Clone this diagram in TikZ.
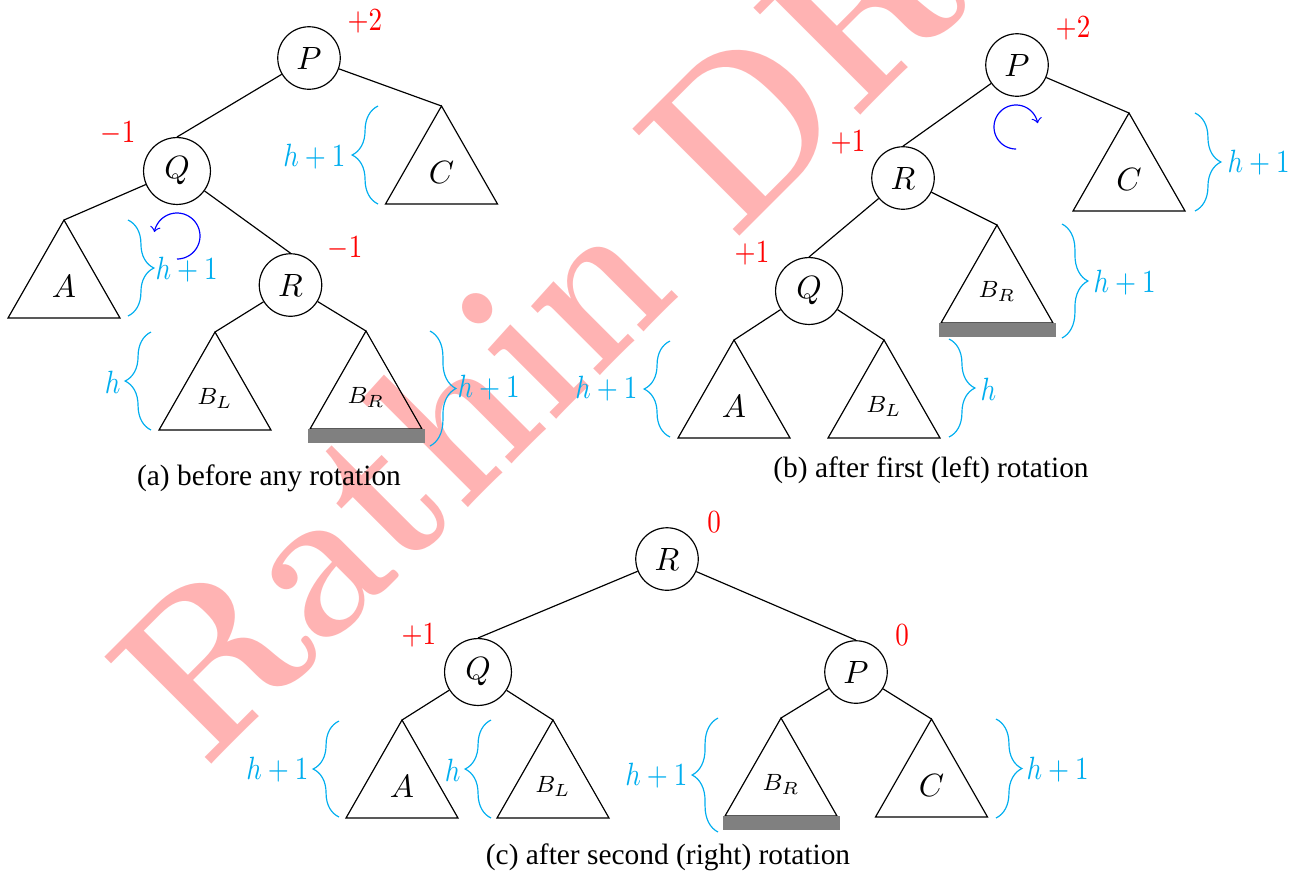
\documentclass[tikz,border=0pt]{standalone}
\usepackage{fontspec}
\usepackage{graphicx}
\usetikzlibrary{decorations.pathreplacing,calc}
\newfontfamily\capfont{Liberation Serif}
\definecolor{bcyan}{RGB}{0,174,239}
\definecolor{wmpink}{RGB}{255,179,179}
\definecolor{barg}{RGB}{128,128,128}
\newcommand{\subtri}[5]{%
  \coordinate (#1) at (#2,#3);
  \draw (#1) -- ++(56,98) -- ++(-112,0) -- cycle;
  \node[#5] (#1-lbl) at ($(#1)+(0,66)$) {#4};
}
\newcommand{\subbar}[1]{%
  \fill[barg] ($(#1)+(-58,98)$) rectangle ($(#1)+(59,112)$);
}
\newcommand{\rotarrow}[4]{%
  \draw[blue,->] plot[domain=#3, samples=60, smooth] ({#1+#4*cos(\x)},{#2+#4*sin(\x)});
}
\newcommand{\nlab}[1]{\scalebox{0.84}[1]{$#1$}}
\begin{document}
\begin{tikzpicture}[x=0.34pt,y=-0.34pt,
  tn/.style={circle, draw, minimum size=21.25pt, inner sep=3.5pt, font=\fontsize{11}{13}\selectfont},
  tbig/.style={font=\fontsize{11}{13}\selectfont, inner sep=0pt},
  tsmall/.style={font=\fontsize{8}{10}\selectfont, inner sep=0pt},
  brc/.style={draw=bcyan, decorate, decoration={brace, amplitude=8.8pt}},
  hlbl/.style={text=bcyan, font=\fontsize{11}{13}\selectfont, inner sep=1pt},
  rlbl/.style={text=red, font=\fontsize{11}{13}\selectfont, inner sep=0pt},
  captext/.style={font=\capfont\fontsize{10}{12}\selectfont, inner sep=0pt}]
\useasboundingbox (0,0) rectangle (1293,881);
% watermark
\node[rotate=45, text=wmpink, font=\fontsize{75}{75}\selectfont\bfseries, inner sep=0pt, anchor=base west] (wm) at (734.5,241.5) {\scalebox{0.9}[1]{\llap{Rathin\ }DRAFT}};

% ---------- (a) ----------
\node[tn] (Pa) at (309,58) {$P$};
\node[tn] (Qa) at (177,171) {$Q$};
\node[tn] (Ra) at (290.5,285) {$R$};
\subtri{Ca}{441.5}{106}{$C$}{tbig}
\subtri{Aa}{64}{220}{$A$}{tbig}
\subtri{BLa}{215}{332}{$B_L$}{tsmall}
\subtri{BRa}{366}{331}{$B_R$}{tsmall}
\subbar{BRa}
\draw (Pa) -- (Qa.north);
\draw (Pa) -- (Ca);
\draw (Qa) -- (Aa);
\draw (Qa) -- (Ra.north);
\draw (Ra) -- (BLa);
\draw (Ra) -- (BRa);
\draw[brc] (378,204) -- (378,106);
\node[hlbl, anchor=east] (hCa) at (349,157) {\nlab{h+1}};
\draw[brc] (128,220) -- (128,316);
\node[hlbl, anchor=west] (hAa) at (152,270) {\nlab{h+1}};
\draw[brc] (151,430) -- (151,332);
\node[hlbl, anchor=east] (hBLa) at (124,382) {\nlab{h}};
\draw[brc] (430,331) -- (430,446);
\node[hlbl, anchor=west] (hBRa) at (454,388) {\nlab{h+1}};
\node[rlbl] (bPa) at (365,21) {\nlab{+2}};
\node[rlbl] (bQa) at (118,133) {\nlab{-1}};
\node[rlbl] (bRa) at (345,248) {\nlab{-1}};
\rotarrow{177}{236}{90:-170}{23}
\node[captext] (capa) at (269,478) {(a) before any rotation};

% ---------- (b) ----------
\node[tn] (Pb) at (1017,65) {$P$};
\node[tn] (Rb) at (903,178) {$R$};
\node[tn] (Qb) at (809,291) {$Q$};
\subtri{Cb}{1129}{113}{$C$}{tbig}
\subtri{BRb}{997}{225}{$B_R$}{tsmall}
\subbar{BRb}
\subtri{Ab}{734}{340}{$A$}{tbig}
\subtri{BLb}{884}{340}{$B_L$}{tsmall}
\draw (Pb) -- (Rb.north);
\draw (Pb) -- (Cb);
\draw (Rb) -- (Qb.north);
\draw (Rb) -- (BRb);
\draw (Qb) -- (Ab);
\draw (Qb) -- (BLb);
\draw[brc] (1195,113) -- (1195,211);
\node[hlbl, anchor=west] (hCb) at (1224,163) {\nlab{h+1}};
\draw[brc] (1062,224) -- (1062,338);
\node[hlbl, anchor=west] (hBRb) at (1090,283) {\nlab{h+1}};
\draw[brc] (670,437) -- (670,341);
\node[hlbl, anchor=east] (hAb) at (641,389) {\nlab{h+1}};
\draw[brc] (949,339) -- (949,437);
\node[hlbl, anchor=west] (hBLb) at (977,389) {\nlab{h}};
\node[rlbl] (bPb) at (1073,28) {\nlab{+2}};
\node[rlbl] (bRb) at (848,142) {\nlab{+1}};
\node[rlbl] (bQb) at (752,253) {\nlab{+1}};
\rotarrow{1016}{127}{90:350}{22}
\node[captext] (capb) at (931,470) {(b) after first (left) rotation};

% ---------- (c) ----------
\node[tn] (Rc) at (667,559) {$R$};
\node[tn] (Qc) at (478,672) {$Q$};
\node[tn] (Pc) at (856,672) {$P$};
\subtri{Ac}{402}{720}{$A$}{tbig}
\subtri{BLc}{553}{720}{$B_L$}{tsmall}
\subtri{BRc}{781}{718}{$B_R$}{tsmall}
\subbar{BRc}
\subtri{Cc}{931.5}{719}{$C$}{tbig}
\draw (Rc) -- (Qc.north);
\draw (Rc) -- (Pc.north);
\draw (Qc) -- (Ac);
\draw (Qc) -- (BLc);
\draw (Pc) -- (BRc);
\draw (Pc) -- (Cc);
\draw[brc] (339,817) -- (339,721);
\node[hlbl, anchor=east] (hAc) at (312,770) {\nlab{h+1}};
\draw[brc] (491,818) -- (491,720);
\node[hlbl, anchor=east] (hBLc) at (464,770) {\nlab{h}};
\draw[brc] (718,832) -- (718,718);
\node[hlbl, anchor=east] (hBRc) at (691,776) {\nlab{h+1}};
\draw[brc] (996,719) -- (996,818);
\node[hlbl, anchor=west] (hCc) at (1023,770) {\nlab{h+1}};
\node[rlbl] (bRc) at (714,522) {\nlab{0}};
\node[rlbl] (bQc) at (419,635) {\nlab{+1}};
\node[rlbl] (bPc) at (902,635) {\nlab{0}};
\node[captext] (capc) at (668,857) {(c) after second (right) rotation};
\end{tikzpicture}
\end{document}
